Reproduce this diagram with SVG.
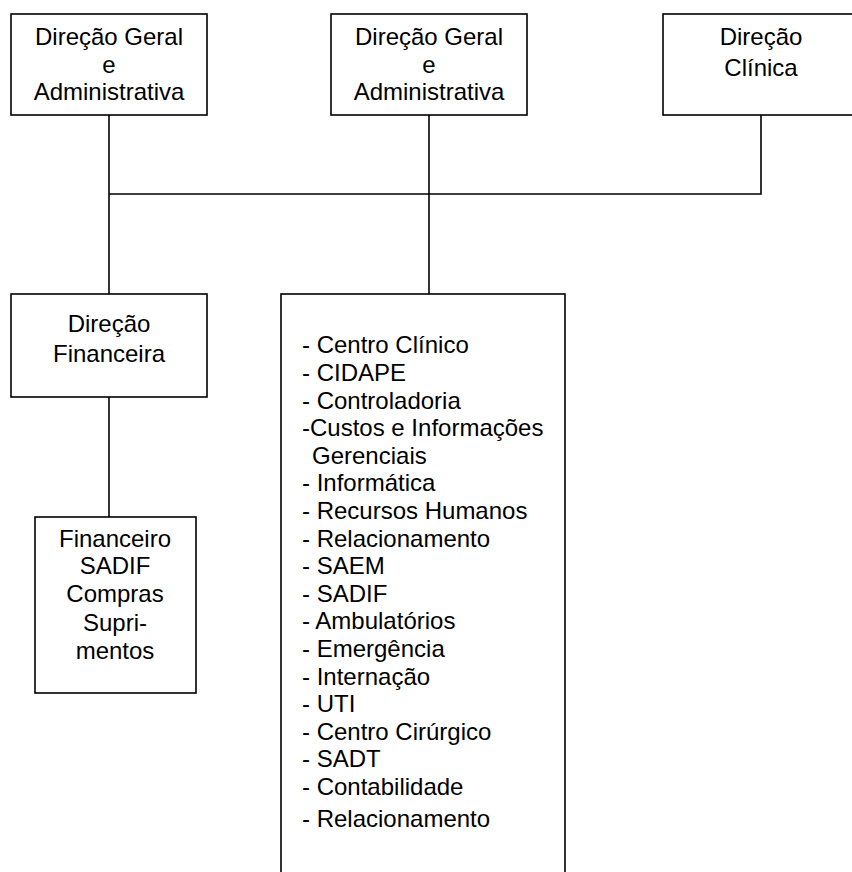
<svg xmlns="http://www.w3.org/2000/svg" width="852" height="872" viewBox="0 0 852 872">
  <style>
    .box { fill: #ffffff; stroke: #000000; stroke-width: 1.6; }
    .link { fill: none; stroke: #000000; stroke-width: 1.6; }
    text { font-family: "Liberation Sans", Arial, sans-serif; font-size: 24px; fill: #000000; }
    .c { text-anchor: middle; }
  </style>
  <rect width="852" height="872" fill="#ffffff"/>

  <!-- connectors -->
  <g id="connectors">
    <path class="link" d="M109,115 V295"/>
    <path class="link" d="M429,115 V295"/>
    <path class="link" d="M761,115 V194 H109"/>
    <path class="link" d="M109,397 V517"/>
  </g>

  <g id="dir-geral-1">
    <rect class="box" x="11" y="14" width="196" height="101"/>
    <text class="c" x="109" y="45">Direção Geral</text>
    <text class="c" x="109" y="72.6">e</text>
    <text class="c" x="109" y="100.2">Administrativa</text>
  </g>

  <g id="dir-geral-2">
    <rect class="box" x="331" y="14" width="196" height="101"/>
    <text class="c" x="429" y="45">Direção Geral</text>
    <text class="c" x="429" y="72.6">e</text>
    <text class="c" x="429" y="100.2">Administrativa</text>
  </g>

  <g id="dir-clinica">
    <rect class="box" x="663" y="14" width="196" height="101"/>
    <text class="c" x="761" y="45">Direção</text>
    <text class="c" x="761" y="76">Clínica</text>
  </g>

  <g id="dir-financeira">
    <rect class="box" x="11" y="294" width="196" height="103"/>
    <text class="c" x="109" y="332">Direção</text>
    <text class="c" x="109" y="362">Financeira</text>
  </g>

  <g id="financeiro">
    <rect class="box" x="35" y="517" width="161" height="176"/>
    <text class="c" x="115" y="546.5">Financeiro</text>
    <text class="c" x="115" y="574">SADIF</text>
    <text class="c" x="115" y="602">Compras</text>
    <text class="c" x="115" y="630.5">Supri-</text>
    <text class="c" x="115" y="659">mentos</text>
  </g>

  <g id="servicos">
    <rect class="box" x="281" y="294" width="284" height="600"/>
    <text x="302" y="353.3">- Centro Clínico</text>
    <text x="302" y="381">- CIDAPE</text>
    <text x="302" y="408.5">- Controladoria</text>
    <text x="302" y="436.1">-Custos e Informações</text>
    <text x="302" y="463.7"> <tspan x="312">Gerenciais</tspan></text>
    <text x="302" y="491.3">- Informática</text>
    <text x="302" y="518.9">- Recursos Humanos</text>
    <text x="302" y="546.5">- Relacionamento</text>
    <text x="302" y="574.1">- SAEM</text>
    <text x="302" y="601.7">- SADIF</text>
    <text x="302" y="629.3">- Ambulatórios</text>
    <text x="302" y="656.9">- Emergência</text>
    <text x="302" y="684.5">- Internação</text>
    <text x="302" y="712.1">- UTI</text>
    <text x="302" y="739.7">- Centro Cirúrgico</text>
    <text x="302" y="767.3">- SADT</text>
    <text x="302" y="794.9">- Contabilidade</text>
    <text x="302" y="826.5">- Relacionamento</text>
  </g>
</svg>
